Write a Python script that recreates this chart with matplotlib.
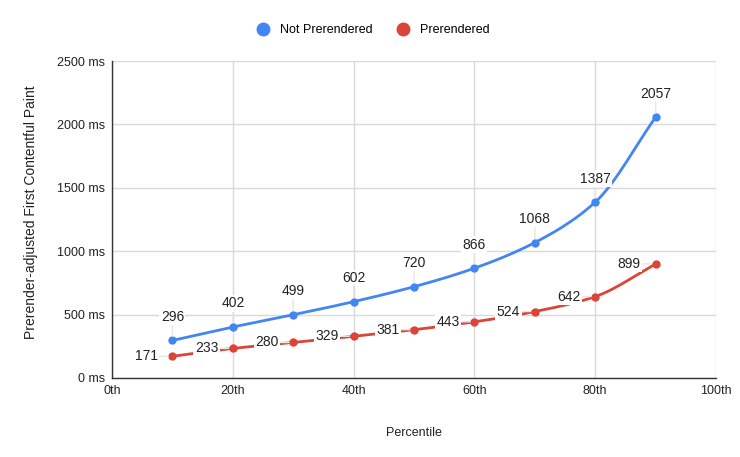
import numpy as np
import matplotlib.pyplot as plt

plt.rcParams['font.family'] = ['Liberation Sans', 'DejaVu Sans']

percentiles = [10, 20, 30, 40, 50, 60, 70, 80, 90]
not_prerendered = [296, 402, 499, 602, 720, 866, 1068, 1387, 2057]
prerendered = [171, 233, 280, 329, 381, 443, 524, 642, 899]
x_ticks = [0, 20, 40, 60, 80, 100]
y_ticks = [0, 500, 1000, 1500, 2000, 2500]

BLUE = '#4285F4'
RED = '#DB4437'


# monotone cubic hermite, so the curve looks like the sheets "smooth" option
def smooth(x, y, n=200):
    x = np.asarray(x, float)
    y = np.asarray(y, float)
    h = np.diff(x)
    d = np.diff(y) / h
    m = np.zeros_like(y)
    m[0] = d[0]
    m[-1] = d[-1]
    for i in range(1, len(x) - 1):
        if d[i - 1] * d[i] <= 0:
            m[i] = 0
        else:
            w1 = 2 * h[i] + h[i - 1]
            w2 = h[i] + 2 * h[i - 1]
            m[i] = (w1 + w2) / (w1 / d[i - 1] + w2 / d[i])
    xs = np.linspace(x[0], x[-1], n)
    idx = np.clip(np.searchsorted(x, xs) - 1, 0, len(x) - 2)
    t = (xs - x[idx]) / h[idx]
    h00 = 2 * t**3 - 3 * t**2 + 1
    h10 = t**3 - 2 * t**2 + t
    h01 = -2 * t**3 + 3 * t**2
    h11 = t**3 - t**2
    ys = h00 * y[idx] + h10 * h[idx] * m[idx] + h01 * y[idx + 1] + h11 * h[idx] * m[idx + 1]
    return xs, ys


fig = plt.figure(figsize=(7.4, 4.57), dpi=100)
ax = fig.add_axes([0.1514, 0.1729, 0.8162, 0.6936])

for vals, col in [(not_prerendered, BLUE), (prerendered, RED)]:
    xs, ys = smooth(percentiles, vals)
    ax.plot(xs, ys, color=col, lw=2, zorder=3)
    ax.plot(percentiles, vals, 'o', color=col, ms=5, zorder=4)

lbl_box = dict(boxstyle='square,pad=0.1', fc='white', ec='none')
for x, v in zip(percentiles, not_prerendered):
    ax.annotate(str(v), (x, v), xytext=(0, 17), textcoords='offset points',
                ha='center', va='center', fontsize=10, color='#222222',
                bbox=lbl_box, zorder=5,
                arrowprops=dict(arrowstyle='-', color='#e6e6e6', lw=1,
                                shrinkA=0, shrinkB=3))
for x, v in zip(percentiles, prerendered):
    ax.annotate(str(v), (x, v), xytext=(-19, 0), textcoords='offset points',
                ha='center', va='center', fontsize=10, color='#222222',
                bbox=lbl_box, zorder=5,
                arrowprops=dict(arrowstyle='-', color='#e6e6e6', lw=1,
                                shrinkA=0, shrinkB=3))

ax.set_xlim(0, 100)
ax.set_ylim(0, 2500)
ax.set_xticks(x_ticks)
ax.set_xticklabels([f'{t}th' for t in x_ticks])
ax.set_yticks(y_ticks)
ax.set_yticklabels([f'{t} ms' for t in y_ticks])
ax.tick_params(length=0, labelsize=9, colors='#222222', pad=5)
ax.grid(True, color='#d9d9d9', lw=1)
ax.set_axisbelow(True)
for s in ['top', 'right']:
    ax.spines[s].set_visible(False)
for s in ['left', 'bottom']:
    ax.spines[s].set_color('#333333')
    ax.spines[s].set_linewidth(1)

ax.set_xlabel('Percentile', fontsize=9, color='#222222', labelpad=22)
ax.set_ylabel('Prerender-adjusted First Contentful Paint', fontsize=10,
              color='#222222')
ax.yaxis.set_label_coords(-0.122, 0.524)

h1 = plt.Line2D([], [], marker='o', ls='none', color=BLUE, ms=9)
h2 = plt.Line2D([], [], marker='o', ls='none', color=RED, ms=9)
fig.legend([h1, h2], ['Not Prerendered', 'Prerendered'], loc='center',
           bbox_to_anchor=(0.5, 0.934), ncol=2, frameon=False, fontsize=9,
           handletextpad=0.3, columnspacing=1.5)

fig.savefig('out.png', dpi=100)
